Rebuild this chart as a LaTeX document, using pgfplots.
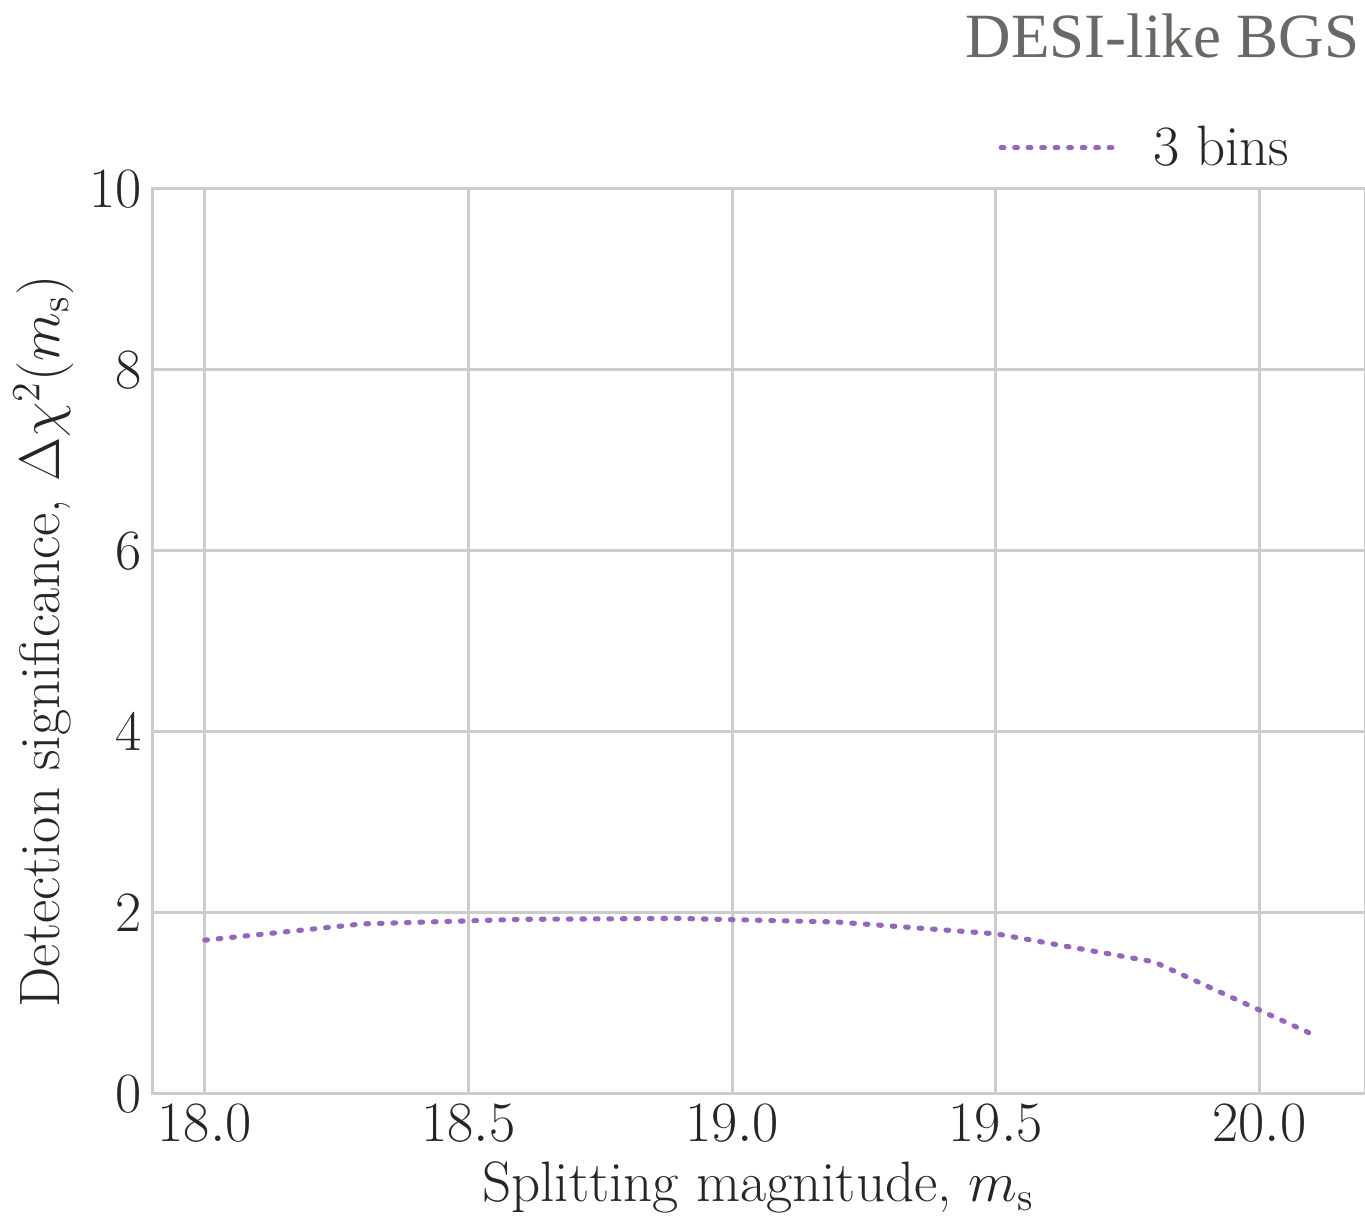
\RequirePackage{fix-cm}
\documentclass[border=0pt]{standalone}
\usepackage{fontspec}
\usepackage{pgfplots}
\pgfplotsset{compat=1.18}
\newfontfamily\titlefont{Liberation Serif}
\definecolor{tabpurple}{HTML}{9467BD}
\definecolor{gridgray}{HTML}{CCCCCC}
\definecolor{textdark}{HTML}{262626}
\definecolor{titlegray}{RGB}{107,103,101}
\newcommand{\lblfont}{\fontsize{19}{22.8}\selectfont}

\begin{document}
\begin{tikzpicture}
\begin{axis}[
  scale only axis,
  width=404.33pt, height=301.67pt,
  xmin=17.9, xmax=20.2, ymin=0, ymax=10,
  xtick={18,18.5,19,19.5,20},
  ytick={0,2,4,6,8,10},
  xticklabel style={/pgf/number format/.cd, fixed, fixed zerofill, precision=1},
  grid=major,
  major grid style={draw=gridgray, line width=1pt},
  axis line style={draw=gridgray, line width=1pt},
  major tick length=0pt,
  tick label style={font=\lblfont, text=textdark},
  label style={font=\lblfont, text=textdark},
  xlabel={Splitting magnitude, $m_\mathrm{s}$},
  ylabel={Detection significance, $\Delta\chi^2(m_\mathrm{s})$},
  xlabel style={at={(axis description cs:0.5,-0.1193)}, anchor=base, inner sep=0pt},
  ylabel style={at={(axis description cs:-0.0759,0.5)}, anchor=base},
  title={DESI-like BGS},
  title style={at={(axis description cs:1,1)}, anchor=base east,
    xshift=-1.67pt, yshift=37.67pt, inner sep=0pt,
    font=\titlefont\fontsize{21}{25}\selectfont, text=titlegray},
  legend style={draw=none, fill=none, inner sep=0pt, font=\lblfont, text=textdark,
    at={(axis description cs:0.6975,1.0454)}, anchor=west,
    nodes={inner sep=0pt},
    /tikz/every odd column/.append style={column sep=12.5pt}},
  legend image code/.code={\draw[#1] (0pt,0pt) -- (37.3pt,0pt);},
]
\addplot[color=tabpurple, line width=1.7pt, line cap=round,
  dash pattern=on 0.9pt off 3.6pt] coordinates {
  (18.0,1.70) (18.3,1.88) (18.6,1.93) (18.9,1.94)
  (19.2,1.90) (19.5,1.77) (19.8,1.46) (20.1,0.66)
};
\addlegendentry{3 bins}
\end{axis}
\pgfresetboundingbox
\path[use as bounding box]
  ([shift={(-50.67pt,-40.67pt)}]current axis.south west)
  rectangle ([shift={(0pt,63pt)}]current axis.north east);
\end{tikzpicture}
\end{document}
